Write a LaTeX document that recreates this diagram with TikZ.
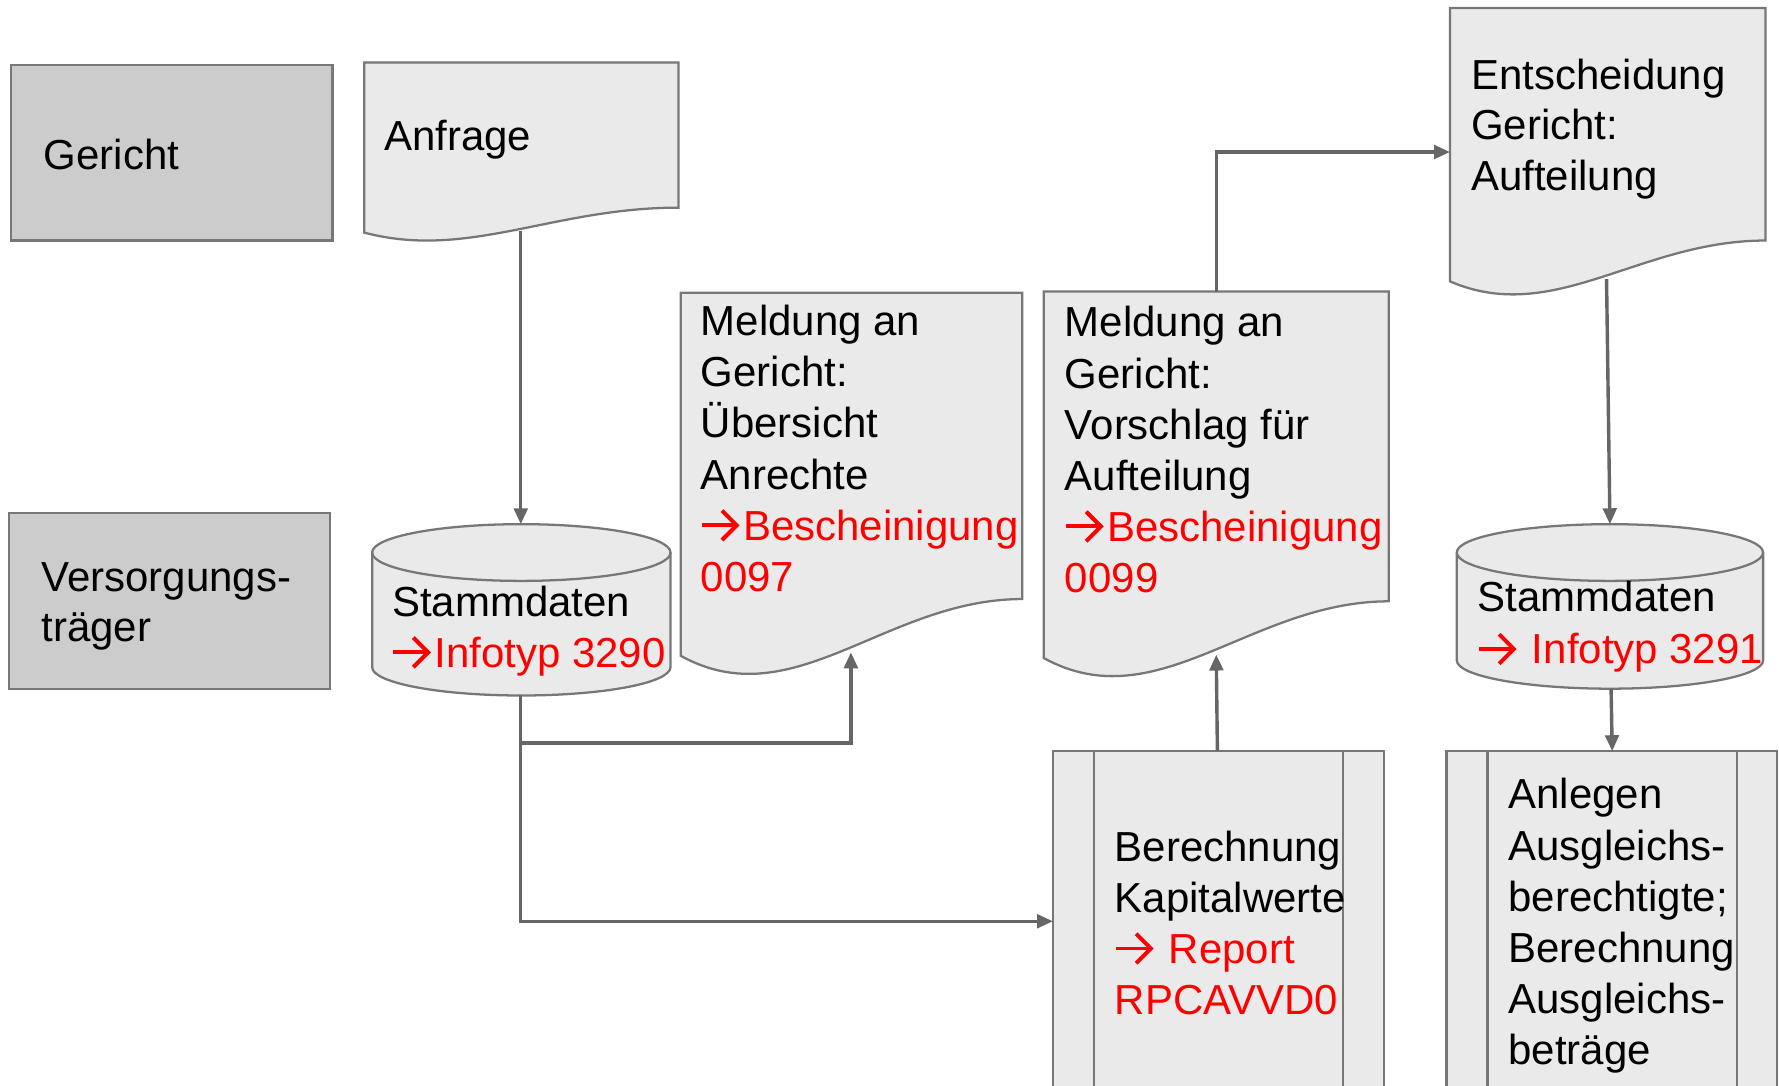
\documentclass[tikz,border=0pt]{standalone}
\usepackage{fontspec}
\setmainfont{Liberation Sans}
\usetikzlibrary{arrows.meta}
\definecolor{boxfill}{HTML}{CCCCCC}
\definecolor{docfill}{HTML}{EAEAEA}
\definecolor{edgegray}{HTML}{777777}
\definecolor{linegray}{HTML}{666666}
\definecolor{redtxt}{HTML}{FF0000}
\newcommand\rarr{\tikz[baseline=0pt, x=1pt, y=1pt]{%
  \useasboundingbox (0,0) rectangle (11.2,7.9);
  \draw[draw=redtxt, line width=1.05pt, line cap=butt] (0.3,3.9) -- (9.4,3.9);
  \draw[draw=redtxt, line width=1.05pt, line join=miter, line cap=butt] (5.6,7.8) -- (9.5,3.9) -- (5.6,0.0);}}
\tikzset{
  shapeline/.style={draw=edgegray, line width=0.6pt, fill=docfill},
  lanebox/.style={draw=edgegray, line width=0.6pt, fill=boxfill},
  txt/.style={anchor=base west, inner sep=0pt, font=\fontsize{11.1pt}{13.5pt}\selectfont},
  rtxt/.style={txt, text=redtxt},
  flow/.style={draw=linegray, line width=0.9pt, -{Triangle[length=4.2pt,width=3.6pt]}},
}
% document shape: x1, ytop, x2, yright, yleft
\newcommand\docpath[5]{%
  \filldraw[shapeline] (#1,#2) -- (#3,#2) -- (#3,#4)
    .. controls ({#1+0.6*(#3-#1)},#4) and ({#1+0.33*(#3-#1)},{#5+1.1*(#5-#4)}) .. (#1,#5) -- cycle;}
% cylinder: x1, x2, ytop-center, ybottom-center, ry
\newcommand\cylpath[5]{%
  \filldraw[shapeline] (#1,#3) -- (#1,#4)
    .. controls (#1,{#4+0.5523*#5}) and ({(#1+#2)/2-0.5523*(#2-#1)/2},{#4+#5}) .. ({(#1+#2)/2},{#4+#5})
    .. controls ({(#1+#2)/2+0.5523*(#2-#1)/2},{#4+#5}) and (#2,{#4+0.5523*#5}) .. (#2,#4)
    -- (#2,#3)
    .. controls (#2,{#3-0.5523*#5}) and ({(#1+#2)/2+0.5523*(#2-#1)/2},{#3-#5}) .. ({(#1+#2)/2},{#3-#5})
    .. controls ({(#1+#2)/2-0.5523*(#2-#1)/2},{#3-#5}) and (#1,{#3-0.5523*#5}) .. (#1,#3) -- cycle;
  \draw[draw=edgegray, line width=0.6pt] (#1,#3)
    .. controls (#1,{#3+0.5523*#5}) and ({(#1+#2)/2-0.5523*(#2-#1)/2},{#3+#5}) .. ({(#1+#2)/2},{#3+#5})
    .. controls ({(#1+#2)/2+0.5523*(#2-#1)/2},{#3+#5}) and (#2,{#3+0.5523*#5}) .. (#2,#3);}
\begin{document}
\begin{tikzpicture}[x=0.3pt, y=-0.3pt]
\useasboundingbox (0,0) rectangle (1568,957);
\clip (0,0) rectangle (1568,957);
\fill[white] (0,0) rectangle (1568,957);

% lane boxes
\filldraw[lanebox] (10,57) rectangle (293,212);
\filldraw[lanebox] (8,452) rectangle (291,607);
\node[txt] (tger) at (38,149) {Gericht};
\node[txt] (tver1) at (36,521) {Versorgungs-};
\node[txt] (tver2) at (36,565) {träger};

% documents
\docpath{321}{55}{598}{183}{205}
\node[txt] (tanf) at (338,133) {Anfrage};

\docpath{600}{258}{901}{528}{578}
\node[txt] (m1a) at (617,296) {Meldung an};
\node[txt] (m1b) at (617,341) {Gericht:};
\node[txt] (m1c) at (617,386) {Übersicht};
\node[txt] (m1d) at (617,431) {Anrechte};
\node[rtxt] (m1e) at (617,476) {\rarr Bescheinigung};
\node[rtxt] (m1f) at (617,521) {0097};

\docpath{920}{257}{1224}{530}{580}
\node[txt] (m2a) at (938,297) {Meldung an};
\node[txt] (m2b) at (938,342) {Gericht:};
\node[txt] (m2c) at (938,387) {Vorschlag für};
\node[txt] (m2d) at (938,432) {Aufteilung};
\node[rtxt] (m2e) at (938,477) {\rarr Bescheinigung};
\node[rtxt] (m2f) at (938,522) {0099};

\docpath{1278}{7}{1556}{212}{248}
\node[txt] (ea) at (1296,79) {Entscheidung};
\node[txt] (eb) at (1296,123) {Gericht:};
\node[txt] (ec) at (1296,168) {Aufteilung};

% cylinders
\cylpath{328}{591}{487}{588}{25}
\node[txt] (s1a) at (345,543) {Stammdaten};
\node[rtxt] (s1b) at (345,588) {\rarr Infotyp 3290};

\cylpath{1284}{1554}{487}{582}{25}
\node[txt] (s2a) at (1302,539) {Stammdaten};
\node[rtxt] (s2b) at (1302,585) {\rarr{} Infotyp 3291};

% predefined processes
\filldraw[shapeline] (928,662) rectangle (1220,1000);
\draw[draw=edgegray, line width=0.6pt] (964,662) -- (964,1000) (1184,662) -- (1184,1000);
\node[txt] (b1) at (982,759) {Berechnung};
\node[txt] (b2) at (982,804) {Kapitalwerte};
\node[rtxt] (b3) at (982,849) {\rarr{} Report};
\node[rtxt] (b4) at (982,894) {RPCAVVD0};

\filldraw[shapeline] (1275,662) rectangle (1566,1000);
\draw[draw=edgegray, line width=0.6pt] (1311,662) -- (1311,1000) (1531,662) -- (1531,1000);
\node[txt] (a1) at (1329,713) {Anlegen};
\node[txt] (a2) at (1329,758) {Ausgleichs-};
\node[txt] (a3) at (1329,803) {berechtigte;};
\node[txt] (a4) at (1329,848) {Berechnung};
\node[txt] (a5) at (1329,893) {Ausgleichs-};
\node[txt] (a6) at (1329,938) {beträge};

% connection points
\coordinate (anfB) at (459,204);
\coordinate (c1T) at (459,462);
\coordinate (c1B) at (459,613);
\coordinate (d1B) at (750,575);
\coordinate (berL) at (928,812);
\coordinate (berT) at (1073,662);
\coordinate (d2B) at (1072,577);
\coordinate (d2T) at (1072,257);
\coordinate (entL) at (1278,134);
\coordinate (entB) at (1416,246);
\coordinate (c2T) at (1419,462);
\coordinate (c2B) at (1420,607);
\coordinate (anlT) at (1421,662);

% connectors
\draw[flow] (anfB) -- (c1T);
\draw[flow] (c1B) -- ++(0,42) -| (d1B);
\draw[flow] (c1B) |- (berL);
\draw[flow] (berT) -- (d2B);
\draw[flow] (d2T) |- (entL);
\draw[flow] (entB) -- (c2T);
\draw[flow] (c2B) -- (anlT);
\end{tikzpicture}
\end{document}
